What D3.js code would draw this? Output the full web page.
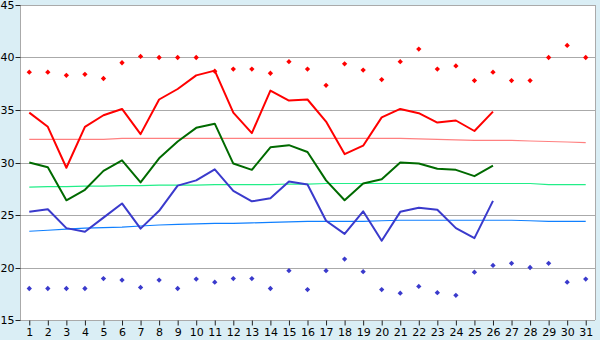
<!DOCTYPE html>
<html><head><meta charset="utf-8">
<script src="https://cdn.jsdelivr.net/npm/d3@7"></script>
<style>html,body{margin:0;padding:0;background:#daeef5;}svg{display:block;}</style>
</head><body><svg id="c" width="600" height="340"></svg>
<script>
const days = d3.range(1, 32);
const yTicks = [15, 20, 25, 30, 35, 40, 45];
const redDots = [38.6,38.6,38.3,38.4,38.0,39.5,40.1,40.0,40.0,40.0,38.7,38.9,38.9,38.5,39.6,38.9,37.35,39.4,38.8,37.9,39.6,40.8,38.9,39.2,37.8,38.6,37.8,37.8,40.0,41.15,40.0];
const redLine = [34.75,33.4,29.5,33.4,34.5,35.1,32.7,36.0,37.0,38.3,38.75,34.75,32.8,36.85,35.9,36.0,33.9,30.8,31.6,34.3,35.1,34.7,33.8,34.0,33.0,34.85];
const greenLine = [30.0,29.55,26.4,27.4,29.2,30.2,28.1,30.4,32.0,33.3,33.7,29.9,29.3,31.45,31.65,31.0,28.3,26.4,28.0,28.4,30.0,29.9,29.4,29.3,28.7,29.7];
const blueLine = [25.3,25.55,23.75,23.4,24.75,26.1,23.7,25.4,27.8,28.3,29.35,27.3,26.3,26.6,28.2,27.9,24.45,23.2,25.35,22.55,25.3,25.7,25.5,23.75,22.8,26.35];
const blueDots = [18.0,18.0,18.0,18.0,18.95,18.8,18.1,18.8,18.0,18.9,18.6,18.95,18.95,18.0,19.7,17.9,19.7,20.8,19.6,17.9,17.55,18.2,17.6,17.35,19.55,20.2,20.4,20.0,20.4,18.6,18.9];
const redTrend = [32.2,32.2,32.2,32.2,32.2,32.3,32.3,32.3,32.3,32.3,32.3,32.3,32.3,32.3,32.3,32.3,32.3,32.3,32.3,32.3,32.3,32.25,32.2,32.15,32.1,32.1,32.1,32.05,32.0,31.95,31.9];
const greenTrend = [27.65,27.7,27.7,27.75,27.75,27.8,27.8,27.85,27.85,27.85,27.9,27.9,27.9,27.9,27.95,27.95,28.0,28.0,28.0,28.0,28.0,28.0,28.0,28.0,28.0,28.0,28.0,28.0,27.9,27.9,27.9];
const blueTrend = [23.45,23.55,23.65,23.75,23.8,23.85,23.95,24.05,24.1,24.15,24.2,24.2,24.25,24.3,24.35,24.4,24.4,24.4,24.4,24.45,24.5,24.5,24.5,24.5,24.5,24.5,24.5,24.45,24.4,24.4,24.4];

const svg = d3.select('#c');
const L = 20, R = 595, T = 5, B = 320;
const x = d3.scalePoint().domain(days).range([L, R]).padding(0.5);
const y = d3.scaleLinear().domain([15, 45]).range([B, T]);
const font = 'DejaVu Sans, Verdana, sans-serif';

svg.append('rect').attr('x', L).attr('y', T).attr('width', R - L).attr('height', B - T).attr('fill', '#fff');

// gridlines
svg.append('g').selectAll('line').data(yTicks).join('line')
  .attr('x1', L).attr('x2', R).attr('y1', d => Math.round(y(d)) + 0.5).attr('y2', d => Math.round(y(d)) + 0.5)
  .attr('stroke', '#aaaaaa').attr('stroke-width', 1);
svg.append('line').attr('x1', R + 0.5).attr('x2', R + 0.5).attr('y1', T).attr('y2', B).attr('stroke', '#aaaaaa');
svg.append('line').attr('x1', L + 0.5).attr('x2', L + 0.5).attr('y1', T).attr('y2', B + 1).attr('stroke', '#aaaaaa');

// axes
const yAxis = d3.axisLeft(y).tickValues(yTicks).tickSize(5).tickPadding(1);
const gy = svg.append('g').attr('transform', `translate(${L + 0.5},0)`).call(yAxis);
gy.select('.domain').remove();
gy.selectAll('.tick line').attr('stroke', '#222');
gy.selectAll('text').attr('font-family', font).attr('font-size', 11).attr('fill', '#000');
gy.selectAll('.tick').attr('transform', d => `translate(0,${Math.round(y(d)) + 0.5})`);

const xAxis = d3.axisBottom(x).tickSize(5).tickPadding(3);
const gx = svg.append('g').attr('transform', `translate(0,${B + 0.5})`).call(xAxis);
gx.select('.domain').remove();
gx.selectAll('.tick line').attr('stroke', '#222');
gx.selectAll('text').attr('font-family', font).attr('font-size', 11).attr('fill', '#000');

const line = d3.line().x((d, i) => x(days[i])).y(d => y(d));

// trend lines
[[redTrend, '#ff8080'], [greenTrend, '#22ee88'], [blueTrend, '#1080ff']].forEach(([data, c]) => {
  svg.append('path').datum(data).attr('d', line).attr('fill', 'none').attr('stroke', c).attr('stroke-width', 1.2);
});

// main lines
[[redLine, '#ff0000'], [greenLine, '#006a00'], [blueLine, '#3a3acc']].forEach(([data, c]) => {
  svg.append('path').datum(data).attr('d', line).attr('fill', 'none').attr('stroke', c).attr('stroke-width', 2).attr('stroke-linejoin', 'round');
});

// dots (small diamond-ish markers)
const sym = d3.symbol().type(d3.symbolSquare).size(14);
[[redDots, '#ff0000'], [blueDots, '#3a3acc']].forEach(([data, c]) => {
  svg.append('g').selectAll('path').data(data).join('path')
    .attr('d', sym).attr('fill', c)
    .attr('transform', (d, i) => `translate(${x(days[i])},${y(d)}) rotate(45)`);
});
</script></body></html>
